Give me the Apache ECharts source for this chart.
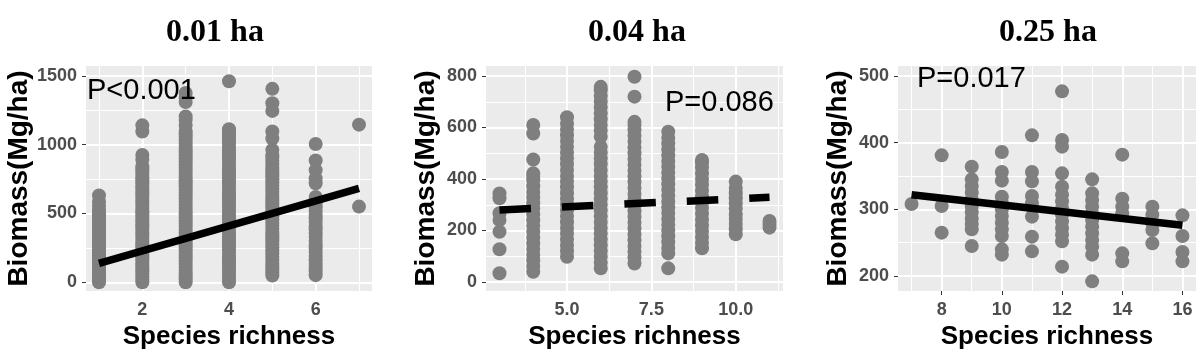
<!DOCTYPE html>
<html><head><meta charset="utf-8">
<script src="https://cdn.jsdelivr.net/npm/echarts@6/dist/echarts.min.js"></script>
<style>html,body{margin:0;padding:0;background:#fff}#c{width:1204px;height:355px}</style>
</head><body><div id="c"></div>
<script>
// ---------- Data ----------
const titles = ['0.01 ha', '0.04 ha', '0.25 ha'];
const pLabels = ['P<0.001', 'P=0.086', 'P=0.017'];
const xName = 'Species richness';
const yName = 'Biomass(Mg/ha)';

// Panel 1 (0.01 ha): richness levels and biomass values per level
const p1Rich = [1, 2, 3, 4, 5, 6, 7];
const p1Bio = [
  [0, 14, 32, 50, 68, 85, 104, 120, 140, 158, 175, 196, 212, 230, 250, 268, 285, 305, 322, 340, 360, 378, 395, 415, 432, 450, 468, 488, 505, 525, 555, 585, 630],
  [0, 20, 40, 62, 80, 100, 122, 140, 160, 182, 200, 222, 240, 262, 280, 300, 322, 340, 360, 382, 400, 420, 442, 460, 480, 502, 520, 540, 562, 580, 600, 622, 640, 660, 682, 700, 720, 742, 760, 780, 800, 822, 842, 890, 925, 1095, 1140],
  [0, 22, 45, 68, 90, 112, 135, 158, 180, 202, 225, 248, 270, 292, 315, 338, 360, 382, 405, 428, 450, 472, 495, 518, 540, 562, 585, 608, 630, 652, 675, 698, 720, 742, 765, 788, 810, 832, 855, 878, 900, 922, 945, 968, 990, 1012, 1035, 1058, 1075, 1100, 1140, 1180, 1205, 1310, 1340, 1375],
  [0, 24, 46, 70, 92, 115, 138, 160, 184, 206, 230, 252, 275, 298, 320, 344, 366, 390, 412, 435, 458, 480, 504, 526, 550, 572, 595, 618, 640, 664, 686, 710, 732, 755, 778, 800, 824, 846, 870, 892, 915, 938, 960, 984, 1006, 1030, 1052, 1075, 1098, 1112, 1460],
  [50, 72, 95, 118, 140, 162, 185, 208, 230, 252, 275, 298, 320, 342, 365, 388, 410, 432, 455, 478, 500, 522, 545, 568, 590, 612, 635, 658, 680, 702, 725, 748, 770, 792, 815, 838, 860, 882, 905, 922, 962, 1045, 1095, 1245, 1300, 1405],
  [52, 80, 108, 135, 160, 192, 220, 248, 272, 300, 330, 355, 385, 410, 440, 465, 492, 520, 545, 575, 600, 620, 720, 755, 815, 885, 1005],
  [550, 1145]
];
const p1Fit = [[1, 138], [7, 683]];
const p1XTicks = [2, 4, 6], p1XMinor = [1, 3, 5, 7];
const p1YTicks = [0, 500, 1000, 1500], p1YMinor = [250, 750, 1250];

// Panel 2 (0.04 ha)
const p2Rich = [3, 4, 5, 6, 7, 8, 9, 10, 11];
const p2Bio = [
  [34, 127, 195, 241, 267, 325, 344],
  [40, 62, 84, 105, 128, 150, 172, 195, 218, 240, 262, 285, 306, 328, 350, 372, 395, 412, 422, 476, 577, 610],
  [98, 120, 142, 165, 188, 210, 232, 255, 278, 300, 322, 345, 368, 390, 412, 435, 458, 480, 502, 525, 548, 570, 592, 615, 640],
  [53, 75, 98, 120, 143, 165, 188, 210, 233, 255, 278, 300, 322, 345, 368, 390, 412, 435, 458, 480, 502, 525, 564, 588, 610, 632, 655, 678, 700, 722, 745, 758],
  [72, 95, 118, 140, 162, 185, 208, 230, 252, 275, 298, 320, 342, 365, 388, 410, 432, 455, 478, 500, 522, 545, 568, 590, 610, 622, 720, 797],
  [53, 111, 132, 155, 178, 200, 222, 245, 268, 290, 312, 335, 358, 380, 402, 425, 448, 470, 492, 515, 538, 560, 584],
  [131, 152, 175, 198, 220, 242, 265, 288, 310, 332, 355, 378, 400, 422, 445, 465, 474],
  [185, 205, 225, 245, 262, 285, 305, 325, 345, 365, 390],
  [211, 225, 237]
];
const p2Fit = [[3, 280], [11, 329]];
const p2XTicks = [5, 7.5, 10], p2XMinor = [3.75, 6.25, 8.75, 11.25];
const p2YTicks = [0, 200, 400, 600, 800], p2YMinor = [100, 300, 500, 700];

// Panel 3 (0.25 ha)
const p3Rich = [7, 8, 9, 10, 11, 12, 13, 14, 15, 16];
const p3Bio = [
  [308],
  [381, 305, 265],
  [364, 345, 335, 325, 315, 305, 296, 286, 278, 270, 245],
  [386, 356, 343, 319, 310, 300, 290, 280, 270, 260, 240, 232],
  [411, 356, 342, 320, 309, 289, 259, 237],
  [477, 404, 394, 354, 334, 322, 312, 302, 292, 282, 272, 262, 252, 214],
  [345, 324, 314, 304, 294, 284, 274, 264, 254, 244, 232, 192],
  [382, 316, 304, 294, 234, 222],
  [304, 292, 279, 269, 249],
  [291, 260, 236, 222]
];
const p3Fit = [[7, 322], [16, 276]];
const p3XTicks = [8, 10, 12, 14, 16], p3XMinor = [7, 9, 11, 13, 15];
const p3YTicks = [200, 300, 400, 500], p3YMinor = [250, 350, 450];

// ---------- Chart ----------
const panels = [
  {rich: p1Rich, bio: p1Bio, fit: p1Fit, xt: p1XTicks, xm: p1XMinor, yt: p1YTicks, ym: p1YMinor,
   grid: {left: 86, top: 66, width: 286, height: 225}, xr: [0.7, 7.3], yr: [-63, 1571], dashed: false,
   title: {x: 215}, p: {x: 87, y: 91}},
  {rich: p2Rich, bio: p2Bio, fit: p2Fit, xt: p2XTicks, xm: p2XMinor, yt: p2YTicks, ym: p2YMinor,
   grid: {left: 486, top: 66, width: 297, height: 225}, xr: [2.6, 11.4], yr: [-35, 839], dashed: true,
   title: {x: 637}, p: {x: 665, y: 102.5}},
  {rich: p3Rich, bio: p3Bio, fit: p3Fit, xt: p3XTicks, xm: p3XMinor, yt: p3YTicks, ym: p3YMinor,
   grid: {left: 898, top: 66, width: 298, height: 225}, xr: [6.55, 16.45], yr: [177.5, 515], dashed: false,
   title: {x: 1048}, p: {x: 917, y: 78.5}}
];

const SANS = '"Liberation Sans", Arial, sans-serif';
const SERIF = '"Liberation Serif", "Times New Roman", serif';
const grids = [], xAxes = [], yAxes = [], series = [], graphics = [];

panels.forEach((P, i) => {
  grids.push(Object.assign({show: true, backgroundColor: '#EBEBEB', borderWidth: 0, containLabel: false, outerBoundsMode: 'none'}, P.grid));
  const tickStyle = {show: true, length: 4, inside: false, lineStyle: {color: '#333333', width: 1}};
  xAxes.push({
    type: 'value', gridIndex: i, min: P.xr[0], max: P.xr[1],
    name: xName, nameLocation: 'middle', nameGap: 31,
    nameTextStyle: {fontFamily: SANS, fontWeight: 'bold', fontSize: 26, color: '#000'},
    axisLine: {show: false},
    axisTick: Object.assign({customValues: P.xt}, tickStyle),
    axisLabel: {customValues: P.xt, fontFamily: SANS, fontWeight: 'bold', fontSize: 18, color: '#4D4D4D', margin: 10,
      formatter: v => (i === 1 ? Number(v).toFixed(1) : String(v))},
    splitLine: {show: false}, minorSplitLine: {show: false}
  });
  yAxes.push({
    type: 'value', gridIndex: i, min: P.yr[0], max: P.yr[1],
    name: yName, nameLocation: 'middle', nameRotate: 90, nameGap: 46,
    nameTextStyle: {fontFamily: SANS, fontWeight: 'bold', fontSize: 28, color: '#000'},
    axisLine: {show: false},
    axisTick: Object.assign({customValues: P.yt}, tickStyle),
    axisLabel: {customValues: P.yt, fontFamily: SANS, fontWeight: 'bold', fontSize: 18, color: '#4D4D4D', margin: 9,
      formatter: v => String(v)},
    splitLine: {show: false}, minorSplitLine: {show: false}
  });
  const ml = [];
  P.xm.forEach(v => ml.push({xAxis: v, lineStyle: {width: 1}}));
  P.ym.forEach(v => ml.push({yAxis: v, lineStyle: {width: 1}}));
  P.xt.forEach(v => ml.push({xAxis: v, lineStyle: {width: 2}}));
  P.yt.forEach(v => ml.push({yAxis: v, lineStyle: {width: 2}}));
  series.push({
    type: 'scatter', xAxisIndex: i, yAxisIndex: i, data: [], z: 1, silent: true,
    markLine: {z: 1, silent: true, symbol: ['none', 'none'], label: {show: false}, animation: false,
      lineStyle: {color: '#FFFFFF', type: 'solid'}, emphasis: {disabled: true}, data: ml}
  });
  const pts = [];
  P.rich.forEach((r, k) => P.bio[k].forEach(b => pts.push([r, b])));
  series.push({
    type: 'scatter', xAxisIndex: i, yAxisIndex: i, data: pts, z: 2,
    symbol: 'circle', symbolSize: 14, itemStyle: {color: '#7F7F7F', opacity: 1}, silent: true
  });
  series.push({
    type: 'line', xAxisIndex: i, yAxisIndex: i, data: P.fit, z: 3, symbol: 'none', silent: true,
    lineStyle: {color: '#000', width: 7.5, type: P.dashed ? [31.5, 31] : 'solid', cap: 'butt'}
  });
  graphics.push({type: 'text', x: P.title.x, y: 32.5, style: {text: titles[i], fill: '#000',
    font: 'bold 32px ' + SERIF, align: 'center', verticalAlign: 'middle'}});
  graphics.push({type: 'text', x: P.p.x, y: P.p.y, style: {text: pLabels[i], fill: '#000',
    font: '29px ' + SANS, align: 'left', verticalAlign: 'middle'}, z: 10});
});

const chart = echarts.init(document.getElementById('c'), null, {renderer: 'canvas'});
chart.setOption({
  animation: false, backgroundColor: '#FFFFFF',
  grid: grids, xAxis: xAxes, yAxis: yAxes, series: series, graphic: graphics
});
</script></body></html>
